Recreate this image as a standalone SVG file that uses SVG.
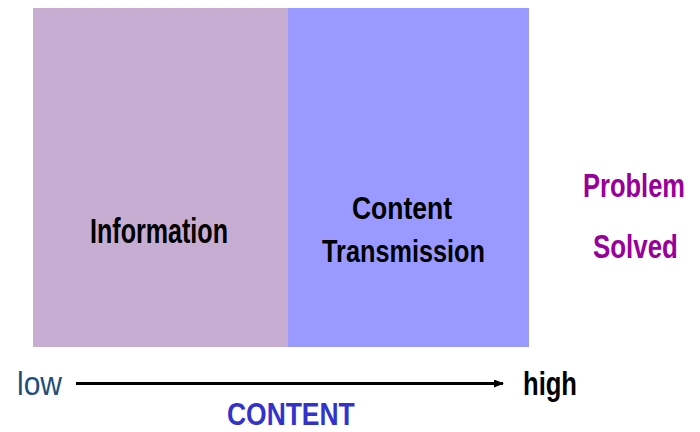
<svg xmlns="http://www.w3.org/2000/svg" width="700" height="432" viewBox="0 0 700 432">
<style>
text{font-family:"Liberation Sans",Arial,sans-serif;font-weight:bold}
.lbl{fill:#000}
.ps{fill:#990099}
</style>
<defs>
<marker id="ah" markerWidth="10" markerHeight="8" refX="9" refY="4" orient="auto" markerUnits="userSpaceOnUse">
<path d="M0,0 L10,4 L0,8 Z" fill="#000"/>
</marker>
</defs>
<rect width="700" height="432" fill="#fff"/>
<g id="information">
<rect x="33" y="8" width="255" height="339" fill="#C8ADD2"/>
<text class="lbl" x="90" y="243" font-size="35" textLength="138" lengthAdjust="spacingAndGlyphs">Information</text>
</g>
<g id="content-transmission">
<rect x="288" y="8" width="241" height="339" fill="#9999FF"/>
<text class="lbl" x="352" y="219" font-size="31" textLength="100" lengthAdjust="spacingAndGlyphs">Content</text>
<text class="lbl" x="322" y="262" font-size="31" textLength="163" lengthAdjust="spacingAndGlyphs">Transmission</text>
</g>
<g id="problem-solved">
<text class="ps" transform="matrix(0.773,0,0,1,583,197)" font-size="33">Problem</text>
<text class="ps" transform="matrix(0.785,0,0,1,593,258)" font-size="33">Solved</text>
</g>
<g id="axis-labels">
<text x="17" y="395" font-size="34" fill="#1F4E79" style="font-weight:normal" textLength="45" lengthAdjust="spacingAndGlyphs">low</text>
<text x="523" y="395" font-size="34" fill="#000" textLength="54" lengthAdjust="spacingAndGlyphs">high</text>
<text transform="matrix(0.853,0,0,1,227,425)" font-size="31" fill="#3333CC">CONTENT</text>
</g>
<g id="connectors">
<line x1="76" y1="383.5" x2="503" y2="383.5" stroke="#000" stroke-width="3" marker-end="url(#ah)"/>
</g>
</svg>
